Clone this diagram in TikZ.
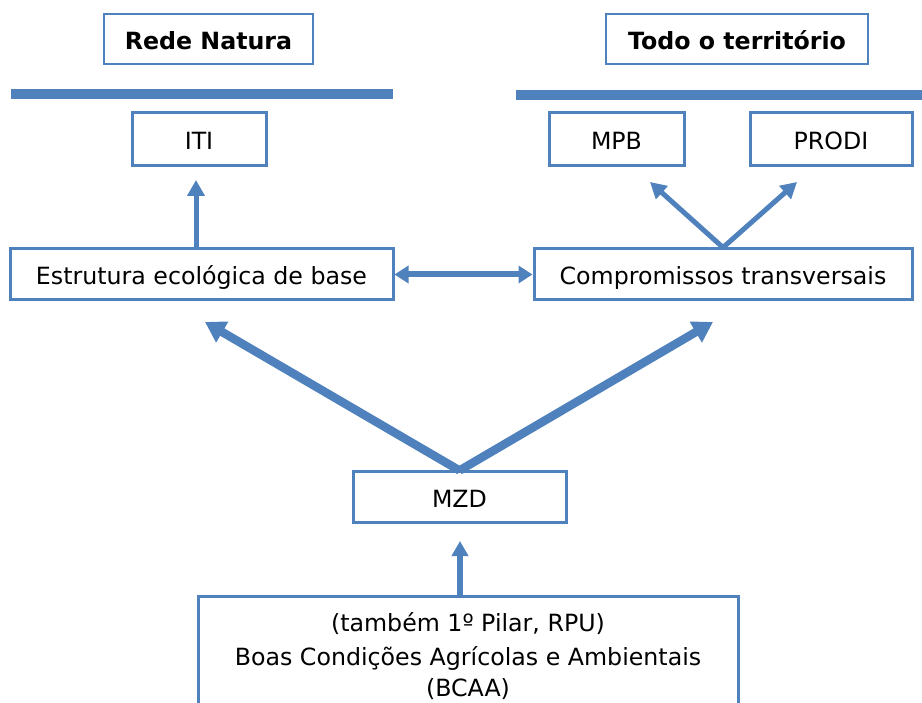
\documentclass[tikz,border=0pt]{standalone}
\usepackage{fontspec}
\setmainfont{DejaVu Sans}
\usetikzlibrary{arrows.meta}
\definecolor{boxblue}{HTML}{4F81BD}
\tikzset{
  framed/.style={draw=boxblue, line width=3pt, inner sep=0pt, fill=white,
    font=\fontsize{23.7}{29}\selectfont, text=black},
  box/.style={framed, text height=22pt, text depth=1pt},
  titlebox/.style={box, line width=2pt, font=\fontsize{23.7}{29}\selectfont\bfseries},
  bar/.style={draw=boxblue, line width=10pt},
  thinarrow/.style={draw=boxblue, line width=5pt,
    -{Triangle[width=17pt,length=16pt]}},
  twoway/.style={draw=boxblue, line width=6pt,
    {Triangle[width=17pt,length=14pt]}-{Triangle[width=17pt,length=14pt]}},
  thickarrow/.style={draw=boxblue, line width=8.5pt,
    -{Triangle[width=23pt,length=20pt]}},
  midarrow/.style={draw=boxblue, line width=5.5pt,
    -{Triangle[width=16pt,length=15pt]}},
}
\begin{document}
\begin{tikzpicture}[x=1pt,y=-1pt]
\useasboundingbox (0,0) rectangle (922,703);

% headings and separator bars
\node[titlebox, minimum width=209pt, minimum height=50pt] (rn) at (208.5,39) {Rede Natura};
\node[titlebox, minimum width=262pt, minimum height=50pt] (tt) at (737,39) {Todo o território};
\draw[bar] (11,94) -- (393,94);
\draw[bar] (516,95) -- (922,95);

% programme boxes
\node[box, minimum width=134pt, minimum height=53pt] (iti) at (199,139.5) {ITI};
\node[box, minimum width=135pt, minimum height=53pt] (mpb) at (616.5,139.5) {MPB};
\node[box, minimum width=162pt, minimum height=53pt] (prodi) at (831,139.5) {PRODI};

\node[box, minimum width=383pt, minimum height=51pt] (est) at (201.5,274.5) {Estrutura ecológica de base};
\node[box, minimum width=378pt, minimum height=51pt] (comp) at (723,274.5) {Compromissos transversais};

\node[box, minimum width=213pt, minimum height=50pt] (mzd) at (459.5,497) {MZD};

% open-bottomed box running off the lower edge
\node[framed, anchor=north, minimum width=540pt, align=center, inner ysep=16pt,
      font=\fontsize{23.7}{31}\selectfont] (bcaa) at (468,595)
  {(também 1º Pilar, RPU)\\[3pt]Boas Condições Agrícolas e Ambientais\\(BCAA)};

% arrow tips
\coordinate (itiTip) at (196,180);
\coordinate (mpbTip) at (650,182);
\coordinate (prodiTip) at (797,182);
\coordinate (estTip) at (205,322);
\coordinate (compTip) at (713,322);
\coordinate (mzdTip) at (460,541);

% connectors
\draw[thinarrow] (est.north -| itiTip) -- (itiTip);
\draw[twoway] (est.east) -- (comp.west);
\draw[thinarrow] (comp.north) -- (mpbTip);
\draw[thinarrow] (comp.north) -- (prodiTip);
\draw[thickarrow] (mzd.north) -- (estTip);
\draw[thickarrow] (mzd.north) -- (compTip);
\draw[midarrow] (bcaa.north -| mzdTip) -- (mzdTip);
\end{tikzpicture}
\end{document}
